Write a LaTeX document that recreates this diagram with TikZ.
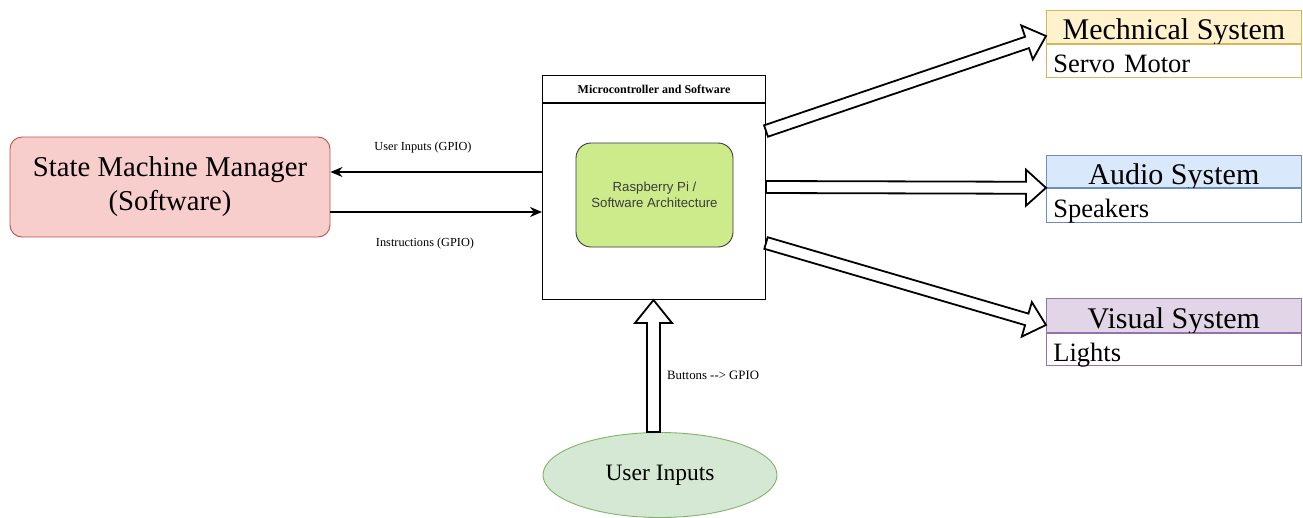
\documentclass[tikz,border=0pt]{standalone}
\usepackage{fontspec}
\setmainfont{Liberation Serif}
\newfontfamily\arialfont{Liberation Sans}
\usetikzlibrary{calc,arrows.meta,shapes.geometric}
\definecolor{smfill}{HTML}{F8CECC}
\definecolor{smdraw}{HTML}{B85450}
\definecolor{uifill}{HTML}{D5E8D4}
\definecolor{uidraw}{HTML}{82B366}
\definecolor{rpifill}{HTML}{CDEB8B}
\definecolor{rpidraw}{HTML}{36393D}
\definecolor{mechfill}{HTML}{FFF2CC}
\definecolor{mechdraw}{HTML}{D6B656}
\definecolor{audfill}{HTML}{DAE8FC}
\definecolor{auddraw}{HTML}{6C8EBF}
\definecolor{visfill}{HTML}{E1D5E7}
\definecolor{visdraw}{HTML}{9673A6}
% block arrow: start, end, shaft half width, head half width, head length
\newcommand\blockarrow[5]{%
  \draw[blockarr] let \p1=(#1), \p2=(#2),
      \n1={atan2(\y2-\y1,\x2-\x1)}, \n2={veclen(\x2-\x1,\y2-\y1)} in
      [shift={(\p1)}, rotate=\n1]
      (0,-#3) -- (\n2-#5,-#3) -- (\n2-#5,-#4) -- (\n2,0) -- (\n2-#5,#4)
      -- (\n2-#5,#3) -- (0,#3) -- cycle;}
\begin{document}
\begin{tikzpicture}[x=1pt,y=1pt,
  blockarr/.style={draw=black, fill=white, line width=1.8pt, line join=miter},
  thinarr/.style={draw=black, line width=1.3pt, -{Stealth[length=12pt,width=10pt]}},
  lbl/.style={font=\fontsize{12.3}{14}\selectfont, inner sep=0},
  hdr/.style={anchor=north west, minimum width=255, minimum height=33, inner sep=0,
    line width=0.8pt, text height=28, text depth=2, font=\fontsize{30}{34}\selectfont},
  subbox/.style={anchor=north west, minimum width=255, minimum height=33, inner ysep=0,
    inner xsep=7, text width=241, align=left, fill=white, line width=0.8pt,
    text height=25, text depth=1, font=\fontsize{26.5}{30}\selectfont},
]
\useasboundingbox (0,0) rectangle (1303,-517);

% State machine manager
\node[draw=smdraw, fill=smfill, rounded corners=12, line width=0.9pt,
  minimum width=320, minimum height=100, inner sep=0, align=center,
  font=\fontsize{28.7}{34}\selectfont] (sm) at (170,-187)
  {State Machine Manager\\(Software)};

% Microcontroller box
\node[draw, line width=1pt, anchor=north west, minimum width=223, minimum height=27,
  inner sep=0, font=\bfseries\fontsize{12}{14}\selectfont] (mch) at (542,-75)
  {Microcontroller and Software};
\node[draw, line width=1pt, anchor=north west, minimum width=223, minimum height=196,
  inner sep=0] (mcb) at (mch.south west) {};
\node[draw=rpidraw, fill=rpifill, rounded corners=15, line width=0.9pt,
  minimum width=157, minimum height=104, inner sep=0, align=center,
  text={rgb,255:red,60;green,60;blue,60},
  font=\arialfont\fontsize{13.2}{16.5}\selectfont] (rpi) at (654.5,-195)
  {Raspberry Pi /\\Software Architecture};

% thin arrows
\draw[thinarr] (mcb.west |- 0,-172) -- (sm.east |- 0,-172);
\draw[thinarr] (sm.east |- 0,-212) -- (mcb.west |- 0,-212);
\node[lbl] (l1) at (423,-148) {User Inputs (GPIO)};
\node[lbl] (l2) at (425,-244) {Instructions (GPIO)};

% right boxes
\node[hdr, draw=mechdraw, fill=mechfill] (mechh) at (1046,-10) {Mechnical System};
\node[subbox, draw=mechdraw] (mechs) at (mechh.south west) {Servo Motor};
\node[hdr, draw=auddraw, fill=audfill, minimum height=32] (audh) at (1046,-155) {Audio System};
\node[subbox, draw=auddraw, minimum height=34] (auds) at (audh.south west) {Speakers};
\node[hdr, draw=visdraw, fill=visfill, minimum height=34] (vish) at (1046,-298) {Visual System};
\node[subbox, draw=visdraw, minimum height=32] (viss) at (vish.south west) {Lights};

% user inputs ellipse
\node[ellipse, draw=uidraw, fill=uifill, line width=0.9pt, minimum width=234,
  minimum height=85, inner sep=0, font=\fontsize{23.5}{28}\selectfont] (ui)
  at (660,-475) {User Inputs};
\node[lbl, anchor=west, font=\fontsize{12.8}{14}\selectfont] (l3) at (667,-375) {Buttons -{}-> GPIO};

% block arrows
\coordinate (a1s) at (mcb.east |- 0,-131);
\coordinate (a1e) at (mechh.west |- 0,-36);
\coordinate (a2s) at (mcb.east |- 0,-187);
\coordinate (a2e) at (audh.south west);
\coordinate (a3s) at (mcb.east |- 0,-243);
\coordinate (a3e) at (vish.west |- 0,-325);
\coordinate (a4s) at (ui.north -| 653.5,0);
\coordinate (a4e) at (mcb.south -| 653.5,0);
\blockarrow{a1s}{a1e}{6}{18}{20}
\blockarrow{a2s}{a2e}{6}{18}{20}
\blockarrow{a3s}{a3e}{6}{18}{20}
\blockarrow{a4s}{a4e}{6.5}{18.5}{23}
\end{tikzpicture}
\end{document}
